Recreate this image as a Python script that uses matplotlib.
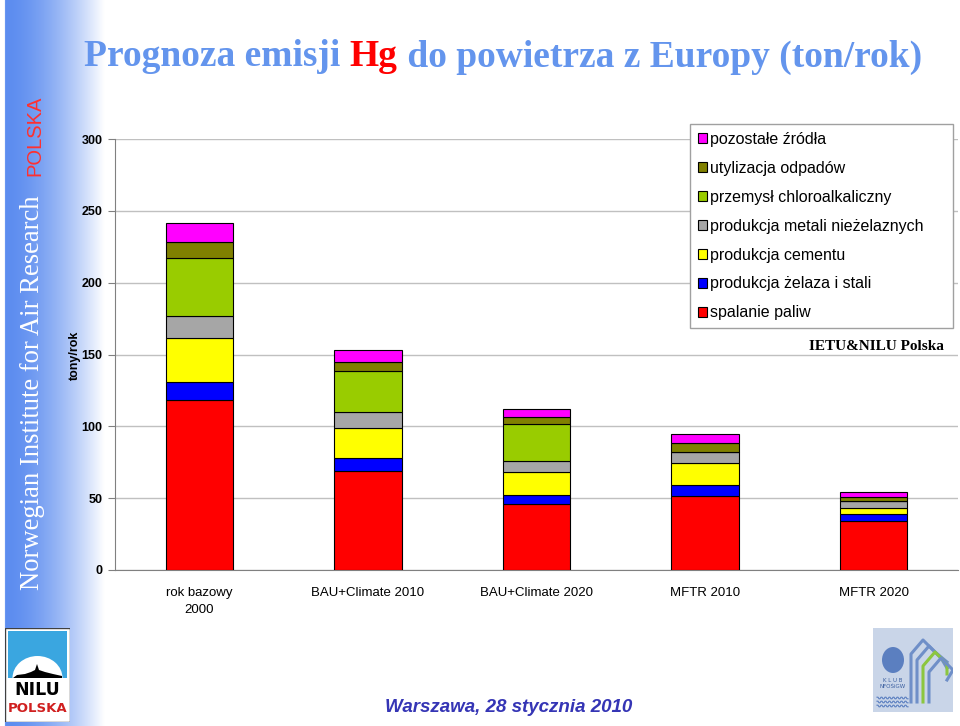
import matplotlib
matplotlib.use("Agg")
import matplotlib.pyplot as plt
import numpy as np
from matplotlib.patches import Rectangle, Ellipse, Polygon

# --- data -------------------------------------------------------------
categories = ["rok bazowy\n2000", "BAU+Climate 2010", "BAU+Climate 2020",
              "MFTR 2010", "MFTR 2020"]
sources = ["spalanie paliw", "produkcja żelaza i stali", "produkcja cementu",
           "produkcja metali nieżelaznych", "przemysł chloroalkaliczny",
           "utylizacja odpadów", "pozostałe źródła"]
spalanie = [118.5, 68.9, 45.7, 51.7, 34.1]
zelazo = [12.4, 9.1, 6.5, 7.3, 4.7]
cement = [30.6, 21.0, 16.2, 15.5, 4.1]
metale = [15.5, 10.8, 7.7, 7.8, 5.1]
chloro = [40.4, 28.7, 25.3, 0.0, 0.0]
odpady = [11.1, 6.3, 5.3, 6.1, 2.6]
pozostale = [13.2, 8.1, 5.2, 6.3, 3.9]
series = [spalanie, zelazo, cement, metale, chloro, odpady, pozostale]
colors = ["#FF0000", "#0000FF", "#FFFF00", "#A6A6A6", "#99CC00",
          "#808000", "#FF00FF"]
yticks = [0, 50, 100, 150, 200, 250, 300]

W, H = 960, 726
fig = plt.figure(figsize=(9.6, 7.26), dpi=100)
fig.patch.set_facecolor("white")

# --- left banner gradient ---------------------------------------------
band = fig.add_axes([0, 0, 110 / W, 1], zorder=0)
xs = np.linspace(0, 1, 220)
fade = np.clip((xs - 0.05) / 0.9, 0, 1) ** 1.6
base = np.array([0.36, 0.55, 0.94])
grad = base[None, :] * (1 - fade[:, None]) + fade[:, None]
grad[xs < 0.045] = 1.0
band.imshow(grad[None, :, :], aspect="auto", extent=[0, 1, 0, 1])
band.set_axis_off()

fig.text(33 / W, 1 - 590 / H, "Norwegian Institute for Air Research",
         rotation=90, color="white", family="Liberation Serif",
         fontsize=19.2, ha="center", va="bottom")
fig.text(35 / W, 1 - 176 / H, "POLSKA", rotation=90, color="#FF3030",
         family="Liberation Sans", fontsize=14.5, ha="center", va="bottom")

# --- main chart -------------------------------------------------------
ax = fig.add_axes([115 / W, 1 - 570 / H, 843 / W, 431 / H], zorder=2)
ax.patch.set_alpha(0)
x = np.arange(len(categories))
bottom = np.zeros(len(categories))
handles = []
for vals, col, name in zip(series, colors, sources):
    vals = np.array(vals)
    b = ax.bar(x, vals, 0.40, bottom=bottom, color=col, edgecolor="black",
               linewidth=0.8, label=name, zorder=3)
    handles.append(b)
    bottom += vals

ax.set_xlim(-0.5, 4.5)
ax.set_ylim(0, 300)
ax.set_yticks(yticks)
ax.set_yticklabels([str(v) for v in yticks], family="Liberation Sans",
                   fontsize=9, fontweight="bold")
ax.set_xticks(x)
ax.set_xticklabels(categories, family="Liberation Sans", fontsize=9.5,
                   linespacing=1.6)
ax.tick_params(axis="x", length=0, pad=12)
ax.tick_params(axis="y", length=5, color="#808080", pad=4)
ax.grid(axis="y", color="#C0C0C0", linewidth=1, zorder=0)
for s in ["top", "right"]:
    ax.spines[s].set_visible(False)
ax.spines["left"].set_color("#808080")
ax.spines["bottom"].set_color("#808080")

fig.text(75 / W, 1 - 355 / H, "tony/rok", rotation=90, ha="center",
         va="center", family="Liberation Sans", fontsize=9,
         fontweight="bold")

# legend frame drawn separately (Excel-style wide box)
fig.patches.append(Rectangle((690 / W, 1 - 328 / H), 263 / W, 204 / H,
                             transform=fig.transFigure, facecolor="white",
                             edgecolor="#A0A0A0", linewidth=1, zorder=4))
leg = fig.legend(handles[::-1], sources[::-1], loc="upper left",
                 bbox_to_anchor=(690 / W, 1 - 124 / H), frameon=False,
                 prop={"family": "Liberation Sans", "size": 11.5},
                 handlelength=0.56, handleheight=0.56, handletextpad=0.2,
                 labelspacing=0.87, borderpad=0.5, borderaxespad=0)
leg.set_zorder(5)

fig.text(944 / W, 1 - 346 / H, "IETU&NILU Polska", ha="right", va="center",
         family="Liberation Serif", fontweight="bold", fontsize=11)

# --- title with red "Hg" ----------------------------------------------
parts = ["Prognoza emisji ", "Hg", " do powietrza z Europy (ton/rok)"]
part_colors = ["#6495ED", "#FF0000", "#6495ED"]
renderer = fig.canvas.get_renderer()
texts, widths = [], []
for p, c in zip(parts, part_colors):
    t = fig.text(0, 1 - 57 / H, p, color=c, family="Liberation Serif",
                 fontweight="bold", fontsize=27, va="center", ha="left")
    widths.append(t.get_window_extent(renderer).width)
    texts.append(t)
x0 = 503 - sum(widths) / 2
for t, w in zip(texts, widths):
    t.set_x(x0 / W)
    x0 += w

fig.text(509 / W, 1 - 708 / H, "Warszawa, 28 stycznia 2010", ha="center",
         va="center", color="#3535B5", family="Liberation Sans",
         fontweight="bold", fontstyle="italic", fontsize=13.5)

# --- NILU POLSKA logo (bottom left) -----------------------------------
logo = fig.add_axes([5 / W, 1 - 722 / H, 65 / W, 94 / H], zorder=3)
logo.set_xlim(0, 65)
logo.set_ylim(0, 94)
logo.set_axis_off()
logo.add_patch(Rectangle((0, 0), 65, 94, facecolor="white",
                         edgecolor="#404040", linewidth=1))
logo.add_patch(Rectangle((3, 44), 59, 47, facecolor="#3AA6E0",
                         edgecolor="none"))
logo.add_patch(Ellipse((32.5, 44), 50, 44, facecolor="white",
                       edgecolor="none"))
logo.add_patch(Polygon([(8, 44), (12, 47), (20, 48), (26, 50), (30, 52),
                        (32, 58), (34, 52), (40, 50), (48, 48), (57, 46),
                        (57, 44)], facecolor="black", edgecolor="none"))
logo.text(32.5, 32, "NILU", ha="center", va="center", fontsize=12.5,
          fontweight="bold", family="Liberation Sans Narrow", color="black")
logo.text(32.5, 14, "POLSKA", ha="center", va="center", fontsize=9.5,
          fontweight="bold", family="Liberation Sans Narrow",
          color="#D02020")

# --- Klub NFOSiGW logo (bottom right) ---------------------------------
klub = fig.add_axes([873 / W, 1 - 712 / H, 80 / W, 84 / H], zorder=3)
klub.set_xlim(0, 80)
klub.set_ylim(0, 84)
klub.set_axis_off()
klub.add_patch(Rectangle((0, 0), 80, 84, facecolor="#C9D5E8",
                         edgecolor="none"))
for k, c in enumerate(["#6F8FC8", "#6F8FC8", "#8CC63F", "#6F8FC8"]):
    off = 6 * k
    klub.plot([38 + off, 38 + off, 50 + off, 62 + off, 74],
              [10, 58 - off, 72 - off, 60 - off, 50 - off],
              color=c, linewidth=2.2)
klub.add_patch(Ellipse((20, 52), 22, 26, facecolor="#5B7FC0",
                       edgecolor="none"))
klub.text(20, 30, "K L U B", ha="center", fontsize=4, color="#3B5FA0")
klub.text(20, 24, "NFOŚiGW", ha="center", fontsize=4, color="#3B5FA0")
for k in range(3):
    xx = np.arange(4, 36)
    klub.plot(xx, 14 - 4 * k + np.where(xx % 4 < 2, 1, -1) * 0.8,
              color="#5B7FC0", linewidth=0.8)

fig.savefig("out.png", dpi=100)
